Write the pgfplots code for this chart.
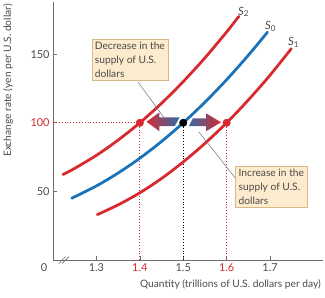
\documentclass[border=0pt]{standalone}
\usepackage{fontspec}
\setmainfont{Lato}
\usepackage{pgfplots}
\pgfplotsset{compat=1.18}

\definecolor{sred}{HTML}{D62A2E}
\definecolor{sblue}{HTML}{1A73BA}
\definecolor{smid}{HTML}{A87D9C}
\definecolor{txt}{HTML}{4A4A4A}
\definecolor{boxfill}{HTML}{FCEBCD}
\definecolor{boxdraw}{HTML}{D9B98C}
\definecolor{axgray}{HTML}{6E6E6E}

\begin{document}
\begin{tikzpicture}
\begin{axis}[
  scale only axis, width=272pt, height=260pt,
  xmin=1.2, xmax=1.822, ymin=0, ymax=188,
  axis lines=left,
  axis line style={axgray, line width=0.8pt, -},
  tick align=inside, major tick length=4pt,
  tick style={axgray, line width=0.6pt},
  xtick={1.3,1.4,1.5,1.6,1.7},
  xticklabels={1.3,\textcolor{sred}{1.4},1.5,\textcolor{sred}{1.6},1.7},
  ytick={50,100,150},
  yticklabels={50,\textcolor{sred}{100},150},
  ticklabel style={font=\fontsize{11}{13}\selectfont, text=txt},
  /pgf/number format/assume math mode=true,
  xlabel={Quantity (trillions of U.S. dollars per day)},
  ylabel={Exchange rate (yen per U.S. dollar)},
  label style={font=\fontsize{10.3}{12}\selectfont, text=txt},
  xlabel style={at={(axis description cs:1.005,0)}, anchor=north east, yshift=-16pt},
  ylabel style={at={(axis description cs:-0.135,1.005)}, anchor=south east},
  clip=false,
]

% guide lines to the equilibrium points
\addplot[sred, dotted, line width=0.9pt] coordinates {(1.2,100) (1.4,100)};
\addplot[sred, dotted, line width=0.9pt] coordinates {(1.4,0) (1.4,100)};
\addplot[sred, dotted, line width=0.9pt] coordinates {(1.6,0) (1.6,100)};
\addplot[black, dotted, line width=0.9pt] coordinates {(1.5,0) (1.5,100)};

% supply curves
\addplot[sred, line width=2.8pt, smooth, line cap=round] coordinates {
  (1.223,62.3) (1.25,66.8) (1.3,76.3) (1.35,87.4) (1.4,100) (1.45,114.2)
  (1.5,130.0) (1.55,147.3) (1.6,166.2) (1.628,177.5)};
\addplot[sblue, line width=2.8pt, smooth, line cap=round] coordinates {
  (1.243,45.0) (1.3,54.0) (1.35,63.4) (1.4,74.2) (1.45,86.4) (1.5,100)
  (1.55,115.0) (1.6,131.4) (1.65,149.2) (1.694,166.0)};
\addplot[sred, line width=2.8pt, smooth, line cap=round] coordinates {
  (1.302,33.1) (1.35,40.2) (1.4,49.0) (1.45,59.4) (1.5,71.5) (1.55,85.0)
  (1.6,100) (1.65,116.6) (1.7,134.7) (1.749,154.0)};

% shift arrows
\shade[left color=sred, middle color=smid, right color=sblue] (axis cs:1.5,100) ++(-3.7pt,5.5pt)
  -- ++(-20.3pt,0pt) -- ++(0pt,5pt) -- ++(-13pt,-9.5pt) -- ++(13pt,-9.5pt)
  -- ++(0pt,5pt) -- ++(15.3pt,0pt) -- cycle;
\shade[left color=sblue, middle color=smid, right color=sred] (axis cs:1.5,100) ++(9.7pt,4.5pt)
  -- ++(13.3pt,0pt) -- ++(0pt,5pt) -- ++(15pt,-9pt) -- ++(-15pt,-9pt)
  -- ++(0pt,5pt) -- ++(-17.4pt,0pt) -- cycle;

% equilibrium points
\addplot[only marks, mark=*, mark size=3.8pt, sred] coordinates {(1.4,100) (1.6,100)};
\addplot[only marks, mark=*, mark size=3.8pt, black] coordinates {(1.5,100)};

% leader lines and callouts
\draw[axgray, line width=0.5pt] (axis cs:1.396,129.6) -- (axis cs:1.461,101.4);
\draw[axgray, line width=0.5pt] (axis cs:1.536,93.3) -- (axis cs:1.621,59.3);
\node[fill=boxfill, draw=boxdraw, line width=0.6pt, align=left, text=txt,
  font=\fontsize{10.3}{14}\selectfont, inner sep=3pt] at (axis cs:1.377,146)
  {Decrease in the\\supply of U.S.\\dollars};
\node[fill=boxfill, draw=boxdraw, line width=0.6pt, align=left, text=txt,
  font=\fontsize{10.3}{14}\selectfont, inner sep=3pt] at (axis cs:1.703,53.5)
  {Increase in the\\supply of U.S.\\dollars};

% curve names
\node[text=txt, font=\fontsize{11.5}{13}\selectfont] at (axis cs:1.639,180.8) {\textit{S}\textsubscript{2}};
\node[text=txt, font=\fontsize{11.5}{13}\selectfont] at (axis cs:1.701,170) {\textit{S}\textsubscript{0}};
\node[text=txt, font=\fontsize{11.5}{13}\selectfont] at (axis cs:1.754,158.4) {\textit{S}\textsubscript{1}};

% origin and axis break
\node[anchor=north, text=txt, font=\fontsize{11}{13}\selectfont] at (axis cs:1.2,0) [xshift=-9pt] {0};
\draw[axgray, line width=0.6pt] (axis cs:1.221,0) ++(-3.5pt,-3.5pt) -- ++(7pt,7pt);
\draw[axgray, line width=0.6pt] (axis cs:1.229,0) ++(-3.5pt,-3.5pt) -- ++(7pt,7pt);

\coordinate (bbl) at (axis description cs:-0.1875,-0.146);
\coordinate (btr) at (axis description cs:1.0074,1.0077);
\end{axis}
\path (bbl) rectangle (btr);
\end{tikzpicture}
\end{document}
